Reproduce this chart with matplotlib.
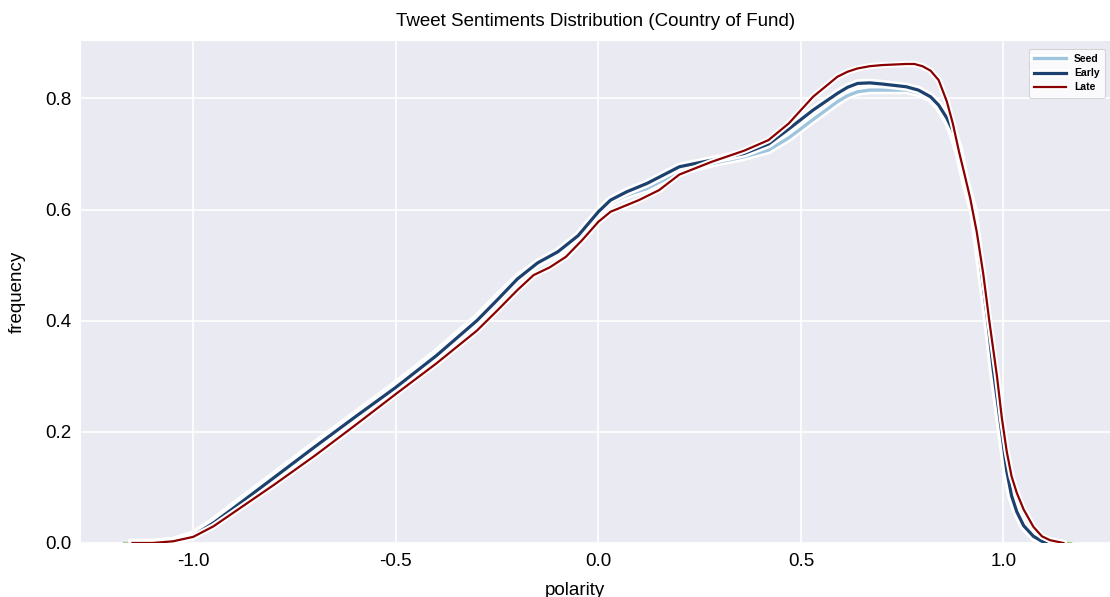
import matplotlib
matplotlib.use("Agg")
import numpy as np
import matplotlib.pyplot as plt
import matplotlib.patheffects as pe

# values
seed_x = [-1.15, -1.10, -1.05, -1.00, -0.95, -0.90, -0.80, -0.70, -0.60, -0.50,
          -0.40, -0.30, -0.25, -0.20, -0.15, -0.10, -0.05, 0.00, 0.03, 0.07,
          0.12, 0.20, 0.28, 0.36, 0.42, 0.47, 0.53, 0.59, 0.615, 0.64,
          0.67, 0.70, 0.76, 0.79, 0.82, 0.84, 0.86, 0.875, 0.89, 0.905,
          0.926, 0.94, 0.961, 0.975, 0.988, 1.00, 1.008, 1.02, 1.033, 1.05,
          1.074, 1.095, 1.115]
seed_y = [0.0, 0.0, 0.004, 0.015, 0.039, 0.067, 0.122, 0.177, 0.231, 0.285,
          0.342, 0.405, 0.442, 0.478, 0.503, 0.520, 0.550, 0.592, 0.612, 0.626,
          0.638, 0.668, 0.683, 0.695, 0.707, 0.729, 0.762, 0.794, 0.805, 0.812,
          0.815, 0.815, 0.815, 0.810, 0.800, 0.785, 0.762, 0.735, 0.700, 0.650,
          0.595, 0.515, 0.395, 0.305, 0.235, 0.168, 0.125, 0.082, 0.055, 0.030,
          0.011, 0.003, 0.0]

early_x = seed_x
early_y = [0.0, 0.0, 0.003, 0.013, 0.036, 0.063, 0.118, 0.173, 0.227, 0.280,
           0.337, 0.400, 0.437, 0.475, 0.504, 0.524, 0.553, 0.596, 0.617, 0.632,
           0.647, 0.677, 0.689, 0.701, 0.718, 0.745, 0.779, 0.809, 0.820, 0.827,
           0.828, 0.826, 0.821, 0.815, 0.803, 0.788, 0.765, 0.742, 0.710, 0.655,
           0.600, 0.520, 0.400, 0.310, 0.240, 0.175, 0.130, 0.085, 0.056, 0.031,
           0.012, 0.003, 0.0]

late_x = [-1.15, -1.10, -1.05, -1.00, -0.95, -0.90, -0.80, -0.70, -0.60, -0.50,
          -0.40, -0.30, -0.25, -0.20, -0.16, -0.12, -0.08, -0.04, 0.00, 0.03,
          0.07, 0.10, 0.15, 0.20, 0.28, 0.36, 0.42, 0.47, 0.53, 0.59,
          0.615, 0.64, 0.67, 0.70, 0.76, 0.78, 0.80, 0.82, 0.84, 0.86,
          0.875, 0.89, 0.905, 0.918, 0.934, 0.950, 0.965, 0.984, 0.996, 1.008,
          1.02, 1.033, 1.05, 1.074, 1.095, 1.115, 1.148]
late_y = [0.0, 0.0, 0.003, 0.011, 0.030, 0.055, 0.105, 0.157, 0.212, 0.268,
          0.323, 0.382, 0.418, 0.455, 0.482, 0.496, 0.515, 0.545, 0.578, 0.596,
          0.608, 0.617, 0.635, 0.663, 0.686, 0.706, 0.725, 0.755, 0.803, 0.839,
          0.848, 0.854, 0.858, 0.860, 0.862, 0.862, 0.858, 0.850, 0.833, 0.795,
          0.755, 0.705, 0.660, 0.620, 0.560, 0.485, 0.400, 0.300, 0.225, 0.165,
          0.120, 0.090, 0.060, 0.029, 0.012, 0.005, 0.0]

# faint zero tails at both ends
tail_x = [-1.17, -1.10, np.nan, 1.10, 1.165]
tail_y = [0.0, 0.0, np.nan, 0.0, 0.0]

xticks = [-1.0, -0.5, 0.0, 0.5, 1.0]
yticks = [0.0, 0.2, 0.4, 0.6, 0.8]

plt.rcParams['font.family'] = ['Liberation Sans', 'DejaVu Sans']

fig = plt.figure(figsize=(11.1, 5.97), dpi=100)
ax = fig.add_axes([0.073, 0.0905, 0.927, 0.8405])
ax.set_facecolor('#eaeaf2')
for s in ax.spines.values():
    s.set_visible(False)
ax.grid(True, color='white', linewidth=1.2)
ax.set_axisbelow(True)

halo = [pe.Stroke(linewidth=6, foreground='white'), pe.Normal()]

ax.plot(tail_x, tail_y, color='#a9d18e', linewidth=2.5, zorder=2)
ax.plot(seed_x, seed_y, color='#9fc5de', linewidth=2.4, label='Seed',
        path_effects=halo, zorder=3)
ax.plot(early_x, early_y, color='#1d416f', linewidth=2.3, label='Early',
        path_effects=halo, zorder=4)
ax.plot(late_x, late_y, color='#8b0000', linewidth=1.6, label='Late',
        path_effects=[pe.Stroke(linewidth=4.5, foreground='white'), pe.Normal()],
        zorder=5)

ax.set_xlim(-1.277, 1.263)
ax.set_ylim(0, 0.903)
ax.set_xticks(xticks)
ax.set_yticks(yticks)
ax.set_xticklabels([f'{v:.1f}' for v in xticks])
ax.set_yticklabels([f'{v:.1f}' for v in yticks])
ax.tick_params(length=0, labelsize=13.5, pad=7)

ax.set_title('Tweet Sentiments Distribution (Country of Fund)', fontsize=13.5, pad=11)
ax.set_xlabel('polarity', fontsize=13.5)
ax.xaxis.set_label_coords(0.48, -0.078)
ax.set_ylabel('frequency', fontsize=13.5, labelpad=14)

leg = ax.legend(loc='upper right', prop={'weight': 'bold', 'size': 7.5},
                frameon=True, facecolor='white', edgecolor='#cccccc',
                handlelength=3.0, borderpad=0.5, labelspacing=0.4,
                bbox_to_anchor=(1.0, 0.995))
leg.get_frame().set_linewidth(0.8)

fig.savefig('out.png', dpi=100)
